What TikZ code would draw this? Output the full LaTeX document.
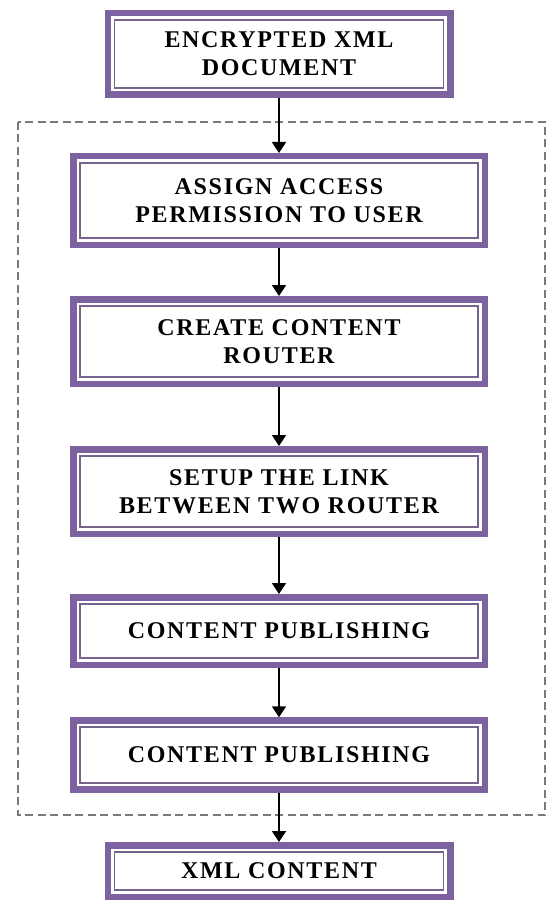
\documentclass[tikz,border=0pt]{standalone}
\usepackage{fontspec}
\newfontfamily\boxfont{Liberation Serif}[LetterSpace=7]
\usetikzlibrary{arrows.meta}
\definecolor{frame}{RGB}{124,98,158}
\definecolor{framethin}{RGB}{118,100,140}
\definecolor{dashgray}{RGB}{120,120,128}
\begin{document}
\begin{tikzpicture}[x=1pt,y=-1pt,
  box/.style={draw=frame, line width=6.5pt, fill=white, minimum width=411.5pt,
    inner sep=0pt, outer sep=0pt, align=center, text=black,
    font=\boxfont\bfseries\fontsize{24}{28}\selectfont},
  narrow/.style={minimum width=342.5pt},
  flow/.style={-{Triangle[width=14pt,length=11pt]}, line width=1.8pt,
    shorten >=3.25pt, shorten <=3.25pt},
  innerframe/.style={draw=framethin, line width=1.6pt},
  region/.style={draw=dashgray, line width=1.5pt, dash pattern=on 8pt off 4.5pt}]
\useasboundingbox (0,0) rectangle (546,901);
\draw[region] (18,122) rectangle (545,815);

\node[box, narrow, minimum height=81.5pt] (b1) at (279,54) {ENCRYPTED XML\\DOCUMENT};
\node[box, minimum height=88.5pt] (b2) at (279,200.5) {ASSIGN ACCESS\\PERMISSION TO USER};
\node[box, minimum height=84.5pt] (b3) at (279,341.5) {CREATE CONTENT\\ROUTER};
\node[box, minimum height=84.5pt] (b4) at (279,491.5) {SETUP THE LINK\\BETWEEN TWO ROUTER};
\node[box, minimum height=67.5pt] (b5) at (279,631) {CONTENT PUBLISHING};
\node[box, minimum height=69pt] (b6) at (279,755) {CONTENT PUBLISHING};
\node[box, narrow, minimum height=51.5pt] (b7) at (279,871) {XML CONTENT};

\foreach \n in {b1,b2,b3,b4,b5,b6,b7}
  \draw[innerframe] ([xshift=6.75pt,yshift=-6.75pt]\n.north west) rectangle ([xshift=-6.75pt,yshift=6.75pt]\n.south east);

\draw[flow] (b1.south) -- (b2.north);
\draw[flow] (b2.south) -- (b3.north);
\draw[flow] (b3.south) -- (b4.north);
\draw[flow] (b4.south) -- (b5.north);
\draw[flow] (b5.south) -- (b6.north);
\draw[flow] (b6.south) -- (b7.north);
\end{tikzpicture}
\end{document}
